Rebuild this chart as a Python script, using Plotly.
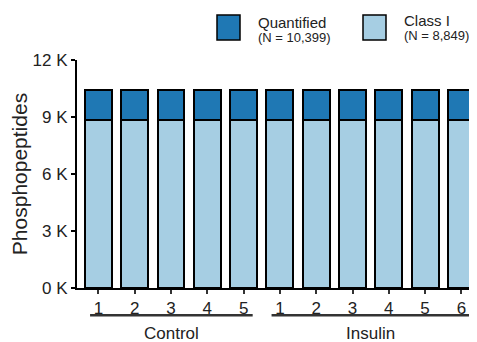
import plotly.graph_objects as go

# ---- data ----
sample_labels = ["1", "2", "3", "4", "5", "1", "2", "3", "4", "5", "6"]
groups = ["Control"] * 5 + ["Insulin"] * 6
quantified_total = [10399] * 11
class_i = [8849] * 11
y_tick_vals = [0, 3000, 6000, 9000, 12000]
y_tick_text = ["0 K", "3 K", "6 K", "9 K", "12 K"]
legend_names = ["Quantified", "Class I"]
legend_counts = ["(N = 10,399)", "(N = 8,849)"]

dark = "#1F78B4"
light = "#A6CEE3"
font = "Liberation Sans, Arial, sans-serif"

xs = list(range(len(sample_labels)))
remainder = [q - c for q, c in zip(quantified_total, class_i)]

fig = go.Figure()
fig.add_trace(go.Bar(x=xs, y=class_i, width=0.74, marker=dict(color=light, line=dict(color="black", width=2)),
                     showlegend=False))
fig.add_trace(go.Bar(x=xs, y=remainder, width=0.74, marker=dict(color=dark, line=dict(color="black", width=2)),
                     showlegend=False))

# group underline + labels
shapes = []
annotations = []
order = []
for g in groups:
    if g not in order:
        order.append(g)
for g in order:
    idx = [i for i, gg in enumerate(groups) if gg == g]
    x0, x1 = idx[0] - 0.23, idx[-1] + 0.25
    shapes.append(dict(type="line", xref="x", yref="paper", x0=x0, x1=x1, y0=-0.12, y1=-0.12,
                       line=dict(color="#333333", width=2.5)))
    annotations.append(dict(xref="x", yref="paper", x=(idx[0] + idx[-1]) / 2, y=-0.2, text=g,
                            showarrow=False, font=dict(size=17, color="#222222", family=font),
                            xanchor="center", yanchor="middle"))

# manual legend
leg_x = [0.35, 0.715]
leg_colors = [dark, light]
title_y = [1.166, 1.175]
count_y = [1.100, 1.108]
for i in range(2):
    shapes.append(dict(type="rect", xref="paper", yref="paper", x0=leg_x[i], x1=leg_x[i] + 0.0575,
                       y0=1.088, y1=1.197, fillcolor=leg_colors[i], line=dict(color="black", width=1.5)))
    annotations.append(dict(xref="paper", yref="paper", x=leg_x[i] + 0.098, y=title_y[i], text=legend_names[i],
                            showarrow=False, xanchor="left", yanchor="middle",
                            font=dict(size=15, color="#222222", family=font)))
    annotations.append(dict(xref="paper", yref="paper", x=leg_x[i] + 0.098, y=count_y[i], text=legend_counts[i],
                            showarrow=False, xanchor="left", yanchor="middle",
                            font=dict(size=13, color="#222222", family=font)))

fig.update_layout(
    barmode="stack",
    width=469, height=334,
    margin=dict(l=69, r=0, t=52, b=54),
    plot_bgcolor="white", paper_bgcolor="white",
    shapes=shapes, annotations=annotations,
    font=dict(family=font, color="#222222"),
    xaxis=dict(range=[-0.59, 10.43], tickvals=xs, ticktext=sample_labels, ticks="outside", ticklen=4,
               tickwidth=1.5, tickcolor="#333333", showline=True, linecolor="black", linewidth=2,
               showgrid=False, zeroline=False, tickfont=dict(size=17, color="#222222")),
    yaxis=dict(range=[0, 12000], tickvals=y_tick_vals, ticktext=y_tick_text, ticks="outside", ticklen=4,
               tickwidth=2, tickcolor="black", showline=True, linecolor="black", linewidth=2,
               showgrid=False, zeroline=False, tickfont=dict(size=17, color="#222222"),
               title=dict(text="Phosphopeptides", font=dict(size=21, color="#222222"), standoff=4)),
)

fig.write_html("out.html")
